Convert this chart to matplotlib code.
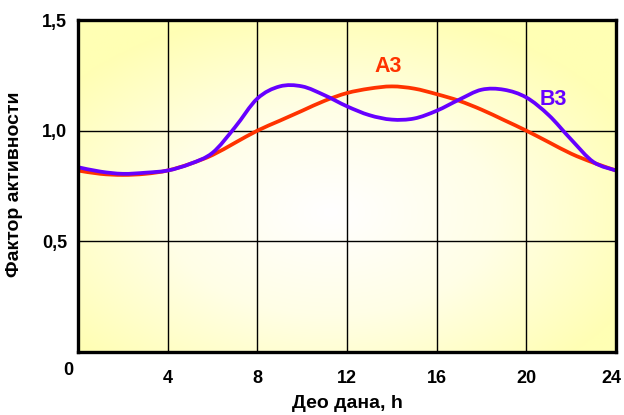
import numpy as np
import matplotlib.pyplot as plt
from matplotlib.colors import LinearSegmentedColormap
from matplotlib.path import Path
from matplotlib.patches import PathPatch
import matplotlib.transforms as mtransforms

plt.rcParams["font.family"] = ["Liberation Sans", "DejaVu Sans"]
plt.rcParams["font.weight"] = "bold"

hours = list(range(0, 25))
a3 = [0.82, 0.805, 0.80, 0.805, 0.82, 0.85, 0.89, 0.945, 1.0, 1.045, 1.09, 1.135,
      1.17, 1.19, 1.20, 1.19, 1.165, 1.135, 1.095, 1.048, 1.0, 0.948, 0.896, 0.855, 0.82]
b3 = [0.835, 0.815, 0.805, 0.81, 0.82, 0.85, 0.90, 1.015, 1.145, 1.20, 1.20, 1.16,
      1.11, 1.07, 1.05, 1.055, 1.09, 1.14, 1.185, 1.185, 1.15, 1.07, 0.96, 0.858, 0.82]
x_ticks = [4, 8, 12, 16, 20, 24]
y_ticks = [0.5, 1.0, 1.5]
y_tick_labels = ["0,5", "1,0", "1,5"]


def smooth_path(xs, ys):
    # Excel-style "smoothed line": Catmull-Rom segments drawn as Bezier curves
    p = np.column_stack([xs, ys]).astype(float)
    verts = [p[0]]
    codes = [Path.MOVETO]
    n = len(p)
    for i in range(n - 1):
        p0 = p[max(i - 1, 0)]
        p1 = p[i]
        p2 = p[i + 1]
        p3 = p[min(i + 2, n - 1)]
        verts += [p1 + (p2 - p0) / 6, p2 - (p3 - p1) / 6, p2]
        codes += [Path.CURVE4] * 3
    return Path(verts, codes)


fig = plt.figure(figsize=(6.24, 4.15), dpi=100)
ax = fig.add_axes([78 / 624, 63 / 415, 538 / 624, 332 / 415])

# radial white-to-yellow background
cmap = LinearSegmentedColormap.from_list("bg", ["#ffffff", "#fffee6", "#ffffb4"])
gx, gy = np.meshgrid(np.linspace(0, 1, 300), np.linspace(0, 1, 300))
r = np.sqrt(((gx - 0.47) / 0.62) ** 2 + ((gy - 0.42) / 0.62) ** 2)
ax.imshow(np.clip(r, 0, 1), cmap=cmap, extent=[0, 24, 0, 1.5], origin="lower",
          aspect="auto", zorder=0, vmin=0, vmax=1)

ax.set_xlim(0, 24)
ax.set_ylim(0, 1.5)
ax.set_xticks(x_ticks)
ax.set_yticks(y_ticks)
ax.set_yticklabels(y_tick_labels)
ax.tick_params(length=0, labelsize=13, pad=13)
ax.tick_params(axis="y", pad=8)
ax.grid(True, color="black", linewidth=1.0, zorder=1)
for s in ax.spines.values():
    s.set_linewidth(2.4)
    s.set_zorder(5)

# keep "24" inside the figure, as in the reference
last = ax.get_xticklabels()[-1]
last.set_transform(last.get_transform() + mtransforms.ScaledTranslation(-5 / 100, 0, fig.dpi_scale_trans))

ax.add_patch(PathPatch(smooth_path(hours, a3), facecolor="none", edgecolor="#ff3300",
                       linewidth=2.7, zorder=3, capstyle="round"))
ax.add_patch(PathPatch(smooth_path(hours, b3), facecolor="none", edgecolor="#6600ff",
                       linewidth=2.7, zorder=4, capstyle="round"))

ax.text(13.85, 1.265, "A3", color="#ff3300", fontsize=15.5, fontweight="bold", ha="center")
ax.text(21.2, 1.115, "B3", color="#6600ff", fontsize=15.5, fontweight="bold", ha="center")

fig.text(68 / 624, 1 - 370 / 415, "0", fontsize=13, fontweight="bold",
         ha="center", va="center")
fig.text(347 / 624, 1 - 403 / 415, "Део дана, h", fontsize=14, fontweight="bold",
         ha="center", va="center")
fig.text(15 / 624, 1 - 184 / 415, "Фактор активности", fontsize=14, fontweight="bold",
         ha="center", va="center", rotation=90)

fig.savefig("out.png", dpi=100)
